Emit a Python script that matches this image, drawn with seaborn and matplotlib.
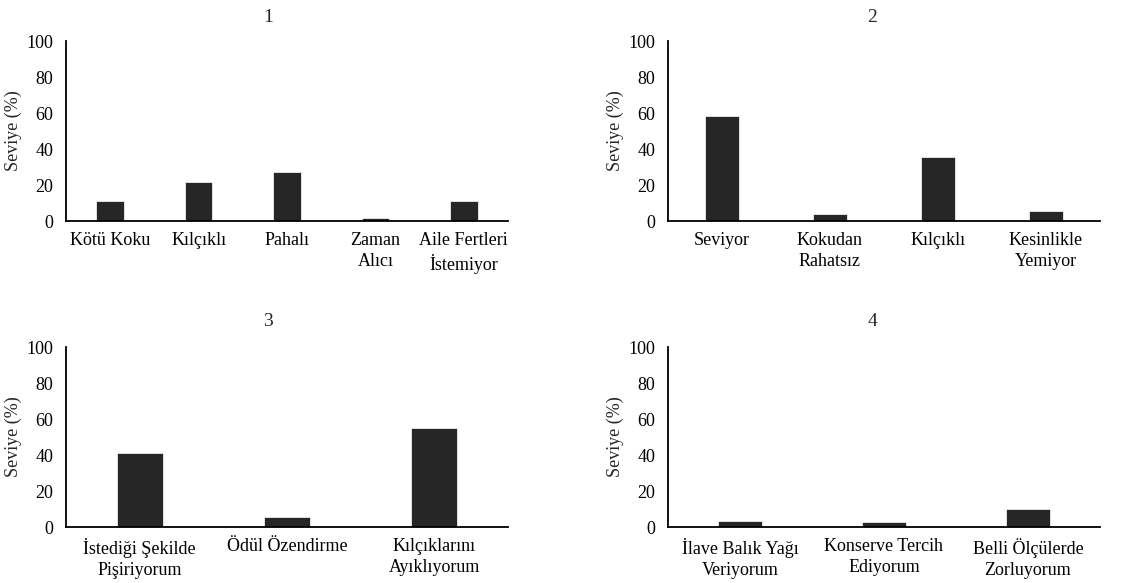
import matplotlib
matplotlib.use('Agg')
import matplotlib.pyplot as plt
import seaborn as sns
import pandas as pd

sns.set_style('white')
plt.rcParams['font.family'] = ['Liberation Serif', 'DejaVu Serif']

labels_1 = ['Kötü Koku', 'Kılçıklı', 'Pahalı', 'Zaman\nAlıcı', 'Aile Fertleri\nİstemiyor']
values_1 = [11.3, 21.9, 27.0, 1.9, 11.3]

labels_2 = ['Seviyor', 'Kokudan\nRahatsız', 'Kılçıklı', 'Kesinlikle\nYemiyor']
values_2 = [58.2, 4.1, 35.5, 5.6]

labels_3 = ['İstediği Şekilde\nPişiriyorum', 'Ödül Özendirme', 'Kılçıklarını\nAyıklıyorum']
values_3 = [41.3, 5.6, 54.9]

labels_4 = ['İlave Balık Yağı\nVeriyorum', 'Konserve Tercih\nEdiyorum', 'Belli Ölçülerde\nZorluyorum']
values_4 = [3.6, 3.0, 10.1]

titles = ['1', '2', '3', '4']
y_ticks = [0, 20, 40, 60, 80, 100]

W, H = 1131, 583
fig = plt.figure(figsize=(W / 100, H / 100), dpi=100)

# axes boxes in pixels: left, top, right, bottom
boxes = [(66, 41, 508, 221), (668, 41, 1100, 221),
         (66, 347, 508, 527), (668, 347, 1100, 527)]
title_x = [268, 872, 268, 872]
title_y = [17, 17, 322, 322]

panels = [(labels_1, values_1), (labels_2, values_2),
          (labels_3, values_3), (labels_4, values_4)]

for i, ((labs, vals), box) in enumerate(zip(panels, boxes)):
    l, t, r, b = box
    ax = fig.add_axes([l / W, 1 - b / H, (r - l) / W, (b - t) / H])
    df = pd.DataFrame({'cat': labs, 'val': vals})
    sns.barplot(data=df, x='cat', y='val', ax=ax, color='#262626',
                width=0.31, edgecolor='white', linewidth=0.5, saturation=1)
    ax.set_ylim(0, 100)
    ax.set_yticks(y_ticks)
    ax.set_xlim(-0.5, len(labs) - 0.5)
    ax.set_xlabel('')
    ax.set_ylabel('Seviye (%)', fontsize=13, labelpad=3)
    ax.tick_params(axis='both', length=0, labelsize=13, colors='black')
    ax.tick_params(axis='y', pad=9)
    ax.tick_params(axis='x', pad=8)
    for lab in ax.get_xticklabels():
        lab.set_linespacing(1.3)
    for s in ['top', 'right']:
        ax.spines[s].set_visible(False)
    for s in ['left', 'bottom']:
        ax.spines[s].set_color('black')
        ax.spines[s].set_linewidth(1.3)
    fig.text(title_x[i] / W, 1 - title_y[i] / H, titles[i], fontsize=14,
             ha='center', va='center')

fig.savefig('out.png', dpi=100)
